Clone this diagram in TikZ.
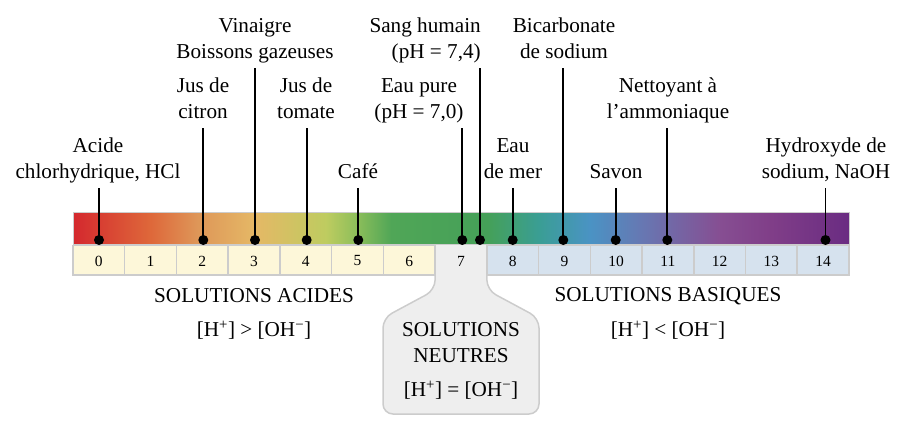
\documentclass[tikz,border=0pt]{standalone}
\usepackage{fontspec}
\setmainfont{Liberation Serif}
\usepackage{tikz}
\usetikzlibrary{positioning, calc}

\definecolor{cellgray}{RGB}{204, 204, 204}
\definecolor{acidyel}{RGB}{253, 247, 217}
\definecolor{basblue}{RGB}{214, 226, 238}
\definecolor{neutgray}{RGB}{238, 238, 238}
\definecolor{ph0}{RGB}{212, 40, 46}
\definecolor{ph1}{RGB}{222, 104, 58}
\definecolor{ph2}{RGB}{222, 150, 88}
\definecolor{ph3}{RGB}{229, 184, 102}
\definecolor{ph4}{RGB}{190, 204, 96}
\definecolor{ph45}{RGB}{140, 190, 90}
\definecolor{ph5}{RGB}{80, 166, 87}
\definecolor{ph7}{RGB}{69, 160, 88}
\definecolor{ph8}{RGB}{58, 158, 148}
\definecolor{ph9}{RGB}{74, 147, 196}
\definecolor{ph10}{RGB}{103, 119, 178}
\definecolor{ph12}{RGB}{134, 78, 146}
\definecolor{ph13}{RGB}{128, 62, 136}
\definecolor{ph14}{RGB}{106, 44, 130}

\pgfdeclarehorizontalshading{phscale}{100bp}{color(0bp)=(ph0); color(25bp)=(ph0);
  color(30bp)=(ph1); color(33bp)=(ph2); color(36.7bp)=(ph3); color(41.3bp)=(ph4);
  color(43.3bp)=(ph45); color(45.5bp)=(ph5); color(51.7bp)=(ph7); color(55bp)=(ph8);
  color(58.3bp)=(ph9); color(61.7bp)=(ph10); color(66.7bp)=(ph12); color(70bp)=(ph13);
  color(75bp)=(ph14); color(100bp)=(ph14)}

\begin{document}
\begin{tikzpicture}[
  x=1pt, y=-1pt,
  lbl/.style={align=center, font=\fontsize{21.2}{26}\selectfont, text depth=6pt, inner sep=3pt},
  txt/.style={align=center, font=\fontsize{21.2}{26}\selectfont},
  num/.style={font=\fontsize{15.5}{18}\selectfont},
  cell/.style={draw=cellgray, line width=1.5pt},
  phdot/.style={circle, fill=black, inner sep=0pt, minimum size=10pt},
  stem/.style={line width=1.8pt}
]
  \useasboundingbox (0,0) rectangle (901,430);

  \draw[cell, fill=neutgray, rounded corners=10pt] (435.1,245) -- (435.1,290) -- (383,318)
    -- (383,414) -- (539,414) -- (539,318) -- (486.9,290) -- (486.9,245);
  \foreach \i in {0,...,6}
    \draw[cell, fill=acidyel] ({73+\i*51.73},245.5) rectangle ++(51.73,29.5);
  \foreach \i in {8,...,14}
    \draw[cell, fill=basblue] ({73+\i*51.73},245.5) rectangle ++(51.73,29.5);
  \foreach \i in {0,...,14}
    \node[num] (n\i) at ({73+(\i+0.5)*51.73},261) {\i};

  \shadedraw[shading=phscale, draw=cellgray, line width=1pt] (73,213) rectangle (849,244);

  \node[phdot] (d0) at (99,240) {};
  \node[phdot] (d2) at (203.3,240) {};
  \node[phdot] (d3) at (255,240) {};
  \node[phdot] (d4) at (306.7,240) {};
  \node[phdot] (d5) at (358.3,240) {};
  \node[phdot] (d7) at (462.3,240) {};
  \node[phdot] (d74) at (480,240) {};
  \node[phdot] (d8) at (512.7,240) {};
  \node[phdot] (d9) at (563.3,240) {};
  \node[phdot] (d10) at (615.7,240) {};
  \node[phdot] (d11) at (667.3,240) {};
  \node[phdot] (d14) at (825.5,240) {};

  \node[lbl, anchor=south] (hcl) at (98,188) {Acide\\chlorhydrique, HCl};
  \node[lbl, anchor=south] (citron) at (203,128) {Jus de\\citron};
  \node[lbl, anchor=south] (vinaigre) at (255,68) {Vinaigre\\Boissons gazeuses};
  \node[lbl, anchor=south] (tomate) at (306,128) {Jus de\\tomate};
  \node[lbl, anchor=south] (cafe) at (358,188) {Café};
  \node[lbl, anchor=south] (eaupure) at (419,128) {Eau pure\\(pH = 7,0)};
  \node[lbl, anchor=south east, align=right] (sang) at (484,68) {Sang humain\\(pH = 7,4)};
  \node[lbl, anchor=south] (mer) at (513,188) {Eau\\de mer};
  \node[lbl, anchor=south] (bicarb) at (564,68) {Bicarbonate\\de sodium};
  \node[lbl, anchor=south] (savon) at (616,188) {Savon};
  \node[lbl, anchor=south] (ammo) at (668,128) {Nettoyant à\\l’ammoniaque};
  \node[lbl, anchor=south] (naoh) at (826,188) {Hydroxyde de\\sodium, NaOH};

  \draw[stem] (d0.center) -- (d0 |- hcl.south);
  \draw[stem] (d2.center) -- (d2 |- citron.south);
  \draw[stem] (d3.center) -- (d3 |- vinaigre.south);
  \draw[stem] (d4.center) -- (d4 |- tomate.south);
  \draw[stem] (d5.center) -- (d5 |- cafe.south);
  \draw[stem] (d7.center) -- (d7 |- eaupure.south);
  \draw[stem] (d74.center) -- (d74 |- sang.south);
  \draw[stem] (d8.center) -- (d8 |- mer.south);
  \draw[stem] (d9.center) -- (d9 |- bicarb.south);
  \draw[stem] (d10.center) -- (d10 |- savon.south);
  \draw[stem] (d11.center) -- (d11 |- ammo.south);
  \draw[stem] (d14.center) -- (d14 |- naoh.south);

  \node[txt] (acides) at (254,296) {SOLUTIONS ACIDES};
  \node[txt] (acidrel) at (254,330) {[H\textsuperscript{+}] > [OH\textsuperscript{−}]};
  \node[txt] (basiques) at (668,296) {SOLUTIONS BASIQUES};
  \node[txt] (basrel) at (668,330) {[H\textsuperscript{+}] < [OH\textsuperscript{−}]};
  \node[txt] (neutres) at (461,343) {SOLUTIONS\\NEUTRES};
  \node[txt] (neutrel) at (461,390) {[H\textsuperscript{+}] = [OH\textsuperscript{−}]};
\end{tikzpicture}
\end{document}
